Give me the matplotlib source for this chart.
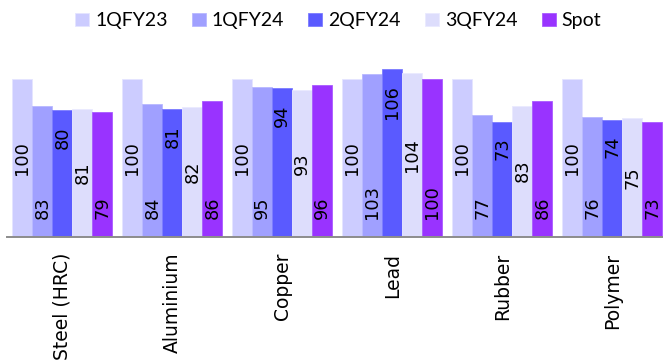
import matplotlib
matplotlib.use("Agg")
import matplotlib.pyplot as plt
import numpy as np

categories = ["Steel (HRC)", "Aluminium", "Copper", "Lead", "Rubber", "Polymer"]
series_names = ["1QFY23", "1QFY24", "2QFY24", "3QFY24", "Spot"]
q1fy23 = [100, 100, 100, 100, 100, 100]
q1fy24 = [83, 84, 95, 103, 77, 76]
q2fy24 = [80, 81, 94, 106, 73, 74]
q3fy24 = [81, 82, 93, 104, 83, 75]
spot = [79, 86, 96, 100, 86, 73]

series_values = [q1fy23, q1fy24, q2fy24, q3fy24, spot]
colors = ["#CCCCFF", "#A0A0FF", "#5A5AFF", "#DDDDFC", "#9933FF"]
edges = ["#E4E4FF", "#B8B8FF", "#7C7CFF", "#EAEAFF", "#A95AFF"]
# where the value label sits inside each series' bars
label_modes = ["center", "base", "end", "center", "base"]

fig = plt.figure(figsize=(6.63, 3.63), dpi=100)
ax = fig.add_axes([0.011, 0.348, 0.9955, 0.4997])

x = np.arange(len(categories))
bw = 1.0 / 5.5
offsets = (np.arange(5) - 2) * bw

handles = []
for vals, name, col, ec, off, mode in zip(series_values, series_names, colors,
                                          edges, offsets, label_modes):
    bars = ax.bar(x + off, vals, width=bw, color=col, edgecolor=ec,
                  linewidth=0.6, label=name)
    handles.append(bars)
    for xi, v in zip(x + off, vals):
        if mode == "center":
            ax.text(xi, v / 2, f"{v}", rotation=90, ha="center", va="center",
                    fontsize=12.8, family="DejaVu Sans", color="black")
        elif mode == "base":
            ax.annotate(f"{v}", (xi, 0), xytext=(0, 12.5),
                        textcoords="offset points", rotation=90,
                        ha="center", va="bottom", fontsize=12.8,
                        family="DejaVu Sans", color="black")
        else:
            ax.annotate(f"{v}", (xi, v), xytext=(0, -11.5),
                        textcoords="offset points", rotation=90,
                        ha="center", va="top", fontsize=12.8,
                        family="DejaVu Sans", color="black")

ax.set_xlim(-0.5, len(categories) - 0.5)
ax.set_ylim(0, 115)
ax.set_yticks([])
ax.set_xticks(x)
ax.set_xticklabels(categories, rotation=90, fontsize=13.5, family="DejaVu Sans")
ax.tick_params(axis="x", length=0, pad=11.5)
for side in ["top", "right", "left"]:
    ax.spines[side].set_visible(False)
ax.spines["bottom"].set_color("#8C8C8C")
ax.spines["bottom"].set_linewidth(1.4)
ax.patch.set_alpha(0)

fig.legend(handles=handles, labels=series_names, loc="center",
           bbox_to_anchor=(0.51, 0.943), ncol=5, frameon=False,
           prop={"family": "Lato", "size": 14}, handlelength=0.72,
           handleheight=0.67, handletextpad=0.3, columnspacing=1.25)

fig.savefig("out.png", dpi=100)
